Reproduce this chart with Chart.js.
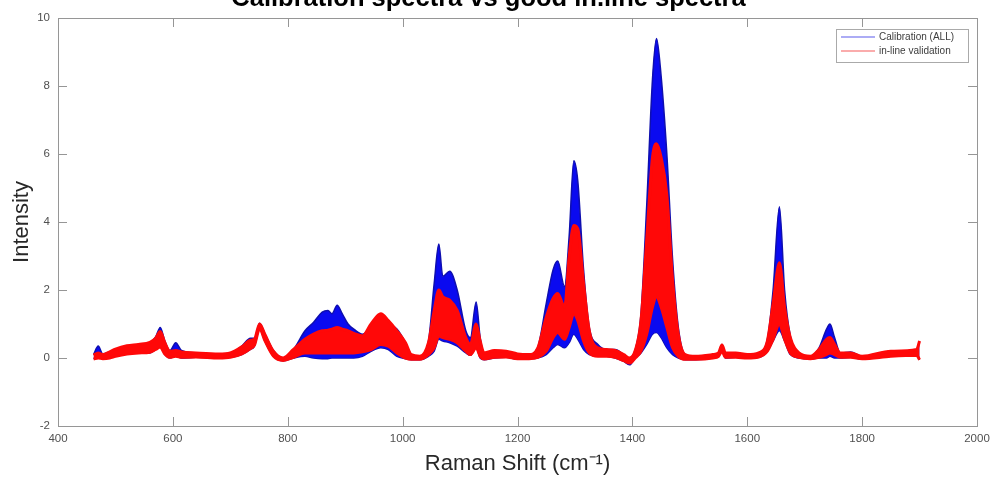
<!DOCTYPE html>
<html>
<head>
<meta charset="utf-8">
<script src="https://cdn.jsdelivr.net/npm/chart.js@4.4.0/dist/chart.umd.min.js"></script>
<style>
html,body{margin:0;padding:0;background:#fff;}
#wrap{width:992px;height:482px;position:relative;}
</style>
</head>
<body>
<div id="wrap"><canvas id="c" width="992" height="482"></canvas></div>
<script>
// Raman shift positions (cm^-1)
const shift = [462,470,478,490,500,520,540,560,570,578,586,595,605,615,640,680,700,720,735,742,751,760,775,792,810,830,845,860,870,877,886,895,905,915,930,945,962,975,990,1005,1015,1030,1045,1055,1063,1070,1082,1095,1110,1118,1128,1135,1142,1160,1180,1200,1220,1235,1250,1262,1270,1282,1290,1298,1305,1315,1325,1340,1355,1370,1385,1395,1405,1415,1425,1435,1442,1450,1460,1470,1480,1492,1510,1540,1550,1556,1562,1580,1600,1620,1635,1645,1656,1665,1675,1690,1710,1725,1738,1744,1752,1762,1780,1800,1850,1895,1900];
// Calibration (ALL): upper and lower envelope of the spectra
const calHigh = [0.10,0.35,0.12,0.18,0.25,0.35,0.40,0.45,0.62,0.90,0.50,0.22,0.45,0.22,0.15,0.12,0.15,0.35,0.58,0.58,1.02,0.72,0.22,0.00,0.25,0.80,1.05,1.35,1.40,1.30,1.55,1.30,1.00,0.85,0.70,0.90,1.15,1.00,0.85,0.45,0.10,0.05,0.50,2.20,3.35,2.40,2.55,2.00,0.80,0.60,1.65,0.60,0.15,0.22,0.20,0.12,0.10,0.30,1.60,2.60,2.85,2.10,3.60,5.80,5.20,2.60,0.90,0.40,0.25,0.25,0.10,0.00,0.25,1.30,4.50,8.20,9.40,8.30,6.00,2.90,0.90,0.10,0.05,0.10,0.15,0.40,0.15,0.15,0.10,0.15,0.55,2.00,4.45,2.00,0.65,0.15,0.05,0.30,0.85,1.00,0.60,0.15,0.18,0.05,0.20,0.25,0.50];
const calLow  = [-0.02,0.02,-0.02,0.00,0.05,0.12,0.15,0.15,0.25,0.35,0.10,0.00,0.05,0.00,0.02,0.00,0.02,0.10,0.25,0.35,0.85,0.50,0.05,-0.08,0.00,0.05,0.00,-0.02,-0.02,0.00,0.00,0.00,0.00,0.00,0.05,0.20,0.30,0.25,0.05,-0.02,-0.05,-0.05,0.05,0.20,0.55,0.50,0.45,0.35,0.15,0.08,0.30,0.00,-0.05,0.00,0.02,-0.03,-0.02,0.00,0.10,0.30,0.40,0.30,0.45,0.70,0.55,0.25,0.10,0.05,0.05,0.00,-0.10,-0.20,0.00,0.15,0.40,0.70,0.75,0.60,0.30,0.10,0.00,-0.05,-0.05,0.00,0.05,0.20,0.00,0.02,0.00,0.02,0.20,0.50,0.80,0.50,0.10,0.00,-0.03,0.00,0.00,0.05,0.00,0.00,0.02,-0.03,0.05,0.05,-0.05];
// In-line validation: upper and lower envelope
const valHigh = [0.08,0.15,0.10,0.18,0.26,0.36,0.40,0.46,0.58,0.78,0.45,0.20,0.22,0.18,0.15,0.12,0.15,0.33,0.52,0.55,1.00,0.70,0.20,0.00,0.25,0.55,0.70,0.80,0.82,0.85,0.90,0.85,0.80,0.72,0.65,1.00,1.30,1.10,0.80,0.45,0.10,0.05,0.45,1.40,2.00,1.80,1.70,1.40,0.60,0.40,1.00,0.50,0.15,0.22,0.20,0.12,0.10,0.28,1.20,1.75,1.90,1.50,3.00,3.90,3.80,2.20,0.80,0.30,0.25,0.22,0.10,0.00,0.22,1.10,3.50,5.90,6.30,5.90,4.80,2.30,0.70,0.10,0.05,0.10,0.15,0.38,0.15,0.15,0.10,0.15,0.50,1.60,2.80,1.50,0.60,0.15,0.05,0.25,0.55,0.60,0.40,0.15,0.15,0.05,0.20,0.25,0.50];
const valLow  = [-0.03,0.00,-0.02,0.00,0.05,0.12,0.15,0.17,0.25,0.32,0.12,0.02,0.05,0.02,0.03,0.00,0.02,0.12,0.28,0.38,0.86,0.52,0.06,-0.07,0.02,0.15,0.15,0.15,0.15,0.15,0.15,0.15,0.15,0.15,0.18,0.25,0.40,0.35,0.15,0.00,-0.04,-0.04,0.10,0.30,0.65,0.60,0.55,0.45,0.20,0.10,0.30,0.05,-0.03,0.02,0.03,-0.02,-0.02,0.02,0.20,0.60,0.75,0.55,0.90,1.30,1.10,0.50,0.15,0.05,0.05,0.02,-0.08,-0.15,0.00,0.20,0.70,1.50,1.80,1.50,0.90,0.30,0.05,-0.04,-0.04,0.00,0.05,0.20,0.02,0.02,0.00,0.03,0.20,0.55,1.00,0.55,0.15,0.02,-0.02,0.02,0.10,0.15,0.10,0.02,0.02,-0.02,0.05,0.08,-0.05];
const xTicks = [400,600,800,1000,1200,1400,1600,1800,2000];
const yTicks = [-2,0,2,4,6,8,10];

const pts = arr => shift.map((x,i)=>({x:x,y:arr[i]}));
const BLUE = 'rgb(10,10,240)', BLUE_EDGE = 'rgb(15,15,175)', RED = 'rgb(255,8,8)';
const AXIS = 'rgb(150,150,150)', TICKTXT = 'rgb(80,80,80)';
const FONT = '"Liberation Sans", Arial, sans-serif';

const boxPlugin = {
  id:'boxPlugin',
  afterDraw(chart){
    const {ctx, chartArea:a, scales:{x,y}} = chart;
    ctx.save();
    ctx.strokeStyle = AXIS; ctx.lineWidth = 1;
    ctx.strokeRect(Math.round(a.left)+0.5, Math.round(a.top)+0.5, Math.round(a.right-a.left), Math.round(a.bottom-a.top));
    ctx.beginPath();
    xTicks.forEach(v=>{ const px=Math.round(x.getPixelForValue(v))+0.5;
      ctx.moveTo(px,a.bottom); ctx.lineTo(px,a.bottom-9);
      ctx.moveTo(px,a.top); ctx.lineTo(px,a.top+9); });
    yTicks.forEach(v=>{ const py=Math.round(y.getPixelForValue(v))+0.5;
      ctx.moveTo(a.left,py); ctx.lineTo(a.left+9,py);
      ctx.moveTo(a.right,py); ctx.lineTo(a.right-9,py); });
    ctx.stroke();
    // legend
    const L = 836, T = 29, W = 132, H = 33;
    ctx.fillStyle = '#fff'; ctx.fillRect(L,T,W,H);
    ctx.strokeStyle = 'rgb(170,170,170)'; ctx.lineWidth = 1; ctx.strokeRect(L+0.5,T+0.5,W,H);
    const items = [{t:chart.data.datasets[0].label,c:'rgb(90,90,235)',y:37},{t:chart.data.datasets[2].label,c:'rgb(245,90,90)',y:51}];
    ctx.font = '10px ' + FONT;
    ctx.textBaseline = 'middle'; ctx.textAlign='left';
    items.forEach(it=>{
      ctx.beginPath(); ctx.strokeStyle = it.c; ctx.lineWidth=1.2;
      ctx.moveTo(841,it.y); ctx.lineTo(875,it.y); ctx.stroke();
      ctx.fillStyle = 'rgb(60,60,60)'; ctx.fillText(it.t, 879, it.y+0.5);
    });
    ctx.restore();
  }
};

new Chart(document.getElementById('c'), {
  type:'line',
  data:{
    datasets:[
      {label:'Calibration (ALL)', data:pts(calHigh), borderColor:BLUE_EDGE, backgroundColor:BLUE, borderWidth:1.5, fill:'+1', order:2, pointRadius:0, cubicInterpolationMode:'monotone'},
      {label:'cal-low', data:pts(calLow), borderColor:BLUE_EDGE, backgroundColor:BLUE, borderWidth:1.5, fill:false, order:2, pointRadius:0, cubicInterpolationMode:'monotone'},
      {label:'in-line validation', data:pts(valHigh), borderColor:RED, backgroundColor:RED, borderWidth:3, fill:'+1', order:1, pointRadius:0, cubicInterpolationMode:'monotone'},
      {label:'val-low', data:pts(valLow), borderColor:RED, backgroundColor:RED, borderWidth:3, fill:false, order:1, pointRadius:0, cubicInterpolationMode:'monotone'}
    ]
  },
  options:{
    responsive:false, animation:false, devicePixelRatio:1,
    layout:{padding:{left:0,right:15,top:0,bottom:0}},
    plugins:{
      legend:{display:false},
      tooltip:{enabled:false},
      title:{display:true, text:'Calibration spectra vs good in.line spectra', color:'#000',
        font:{family:FONT, size:25.5, weight:'bold'}, padding:{top:-16,bottom:3.4}}
    },
    scales:{
      x:{type:'linear', min:400, max:2000,
        afterBuildTicks(s){ s.ticks = xTicks.map(v=>({value:v})); },
        afterFit(s){ s.height = 56; s.paddingLeft = 0; s.paddingRight = 0; },
        grid:{display:false, drawTicks:false}, border:{display:false},
        ticks:{color:TICKTXT, padding:6, maxRotation:0, autoSkip:false, callback:v=>String(v), font:{family:FONT, size:11.5}},
        title:{display:true, text:'Raman Shift (cm⁻¹)', color:'rgb(40,40,40)', padding:{top:0,bottom:5}, font:{family:FONT, size:22}}
      },
      y:{min:-2, max:10,
        afterBuildTicks(s){ s.ticks = yTicks.map(v=>({value:v})); },
        afterFit(s){ s.width = 58; s.paddingTop = 0; s.paddingBottom = 0; },
        grid:{display:false, drawTicks:false}, border:{display:false},
        ticks:{color:TICKTXT, padding:8, callback:v=>String(v), font:{family:FONT, size:11.5}},
        title:{display:true, text:'Intensity', color:'rgb(40,40,40)', padding:{top:9,bottom:0}, font:{family:FONT, size:22}}
      }
    }
  },
  plugins:[boxPlugin]
});
</script>
</body>
</html>
